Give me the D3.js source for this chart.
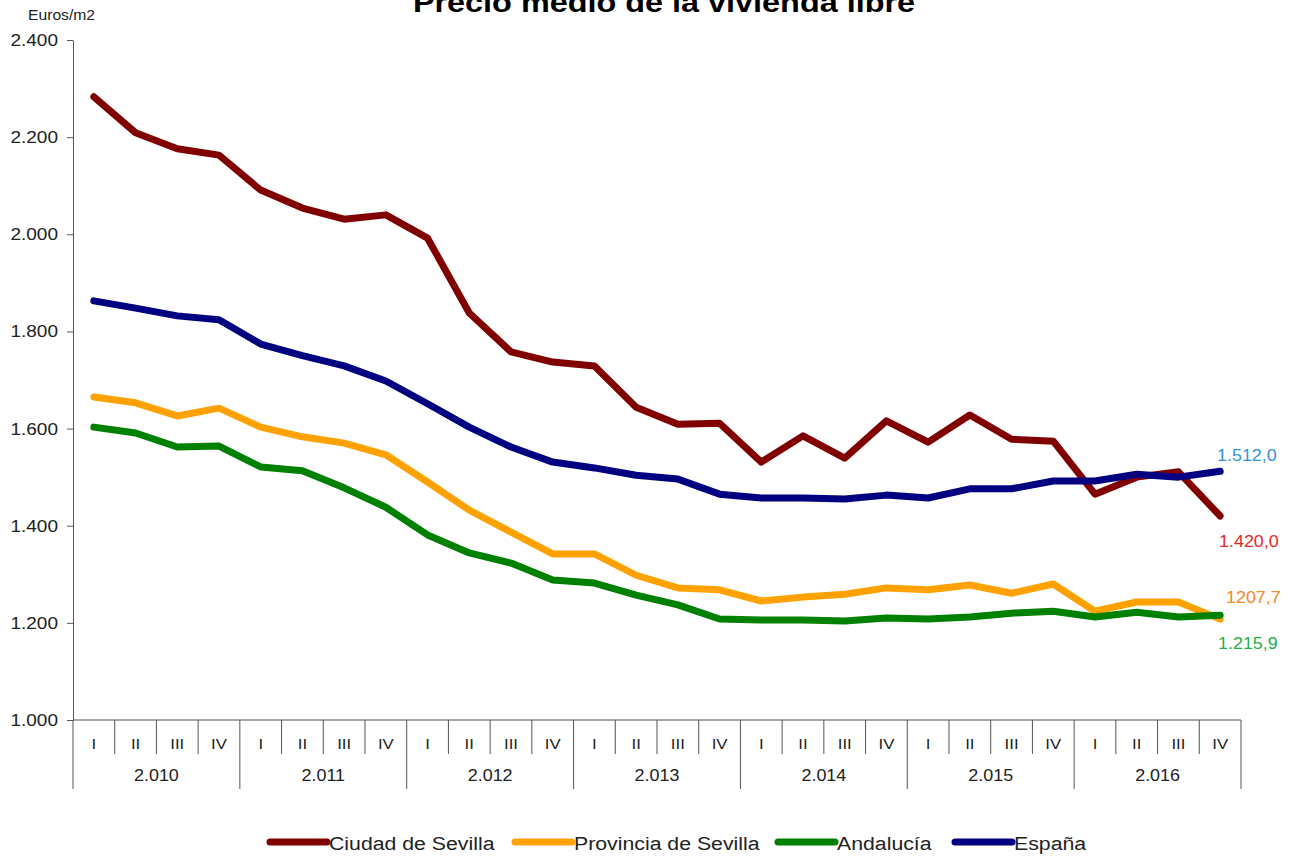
<!DOCTYPE html>
<html><head><meta charset="utf-8">
<script src="https://cdn.jsdelivr.net/npm/d3@7"></script>
<style>body{margin:0;background:#fff}svg{display:block}text{font-family:"Liberation Sans",Arial,sans-serif}</style>
</head><body><svg id="c" width="1293" height="861"></svg>
<script>
const years = ["2.010","2.011","2.012","2.013","2.014","2.015","2.016"];
const quarters = ["I","II","III","IV"];
const yTicks = [1000,1200,1400,1600,1800,2000,2200,2400];
const seriesNames = ["Ciudad de Sevilla","Provincia de Sevilla","Andalucía","España"];
const seriesColors = ["#800000","#FFA200","#008000","#000080"];
const ciudad = [2283,2209,2176,2163,2091,2054,2031,2040,1992,1838,1758,1737,1729,1644,1609,1611,1531,1585,1539,1616,1572,1628,1578,1574,1465,1500,1511,1420.0];
const provincia = [1665,1653,1626,1642,1603,1583,1570,1546,1490,1432,1387,1342,1342,1298,1272,1268,1245,1253,1259,1272,1268,1278,1261,1280,1224,1243,1243,1207.7];
const andalucia = [1603,1591,1562,1564,1521,1513,1478,1438,1381,1344,1323,1288,1282,1257,1237,1208,1206,1206,1204,1210,1208,1212,1220,1224,1212,1222,1212,1215.9];
const espana = [1863,1848,1832,1824,1774,1750,1729,1698,1651,1603,1562,1531,1519,1504,1496,1465,1457,1457,1455,1463,1457,1476,1476,1492,1492,1506,1500,1512.0];
const endLabels = ["1.420,0","1207,7","1.215,9","1.512,0"];
const endLabelColors = ["#E02A2A","#F08A2A","#22B04A","#2F93DA"];
const title = "Precio medio de la vivienda libre";
const yUnit = "Euros/m2";

const data = [ciudad, provincia, andalucia, espana];
const svg = d3.select("#c");
const SX = 1.12;
function txt(g, x, y, s, size, anchor, color, weight){
  return g.append("text").attr("transform",`translate(${x},${y}) scale(${SX},1)`)
    .attr("text-anchor",anchor||"start").attr("font-size",size).attr("fill",color||"#222")
    .attr("font-weight",weight||"normal").text(s);
}
const L=73, R=1241, T=40, B=720;
const idx = d3.range(years.length*quarters.length);
const x = d3.scaleBand().domain(idx).range([L,R]).padding(0);
const y = d3.scaleLinear().domain([1000,2400]).range([B,T]);
const cx = i => x(i)+x.bandwidth()/2;

// title (cut at the top edge, as in the reference)
svg.append("text").attr("transform","translate(664,12) scale(1.2,1)").attr("text-anchor","middle")
  .attr("font-family","'Open Sans',sans-serif").attr("font-weight","bold").attr("font-size",27)
  .attr("fill","#000").text(title);
txt(svg,28,20,yUnit,14,"start","#222");

// y axis
const fmt = v => d3.format(",")(v).replace(/,/g,".");
const ya = svg.append("g").attr("transform",`translate(${L},0)`)
  .call(d3.axisLeft(y).tickValues(yTicks).tickSize(6).tickSizeOuter(0).tickFormat(fmt));
ya.select(".domain").attr("stroke","#555");
ya.selectAll(".tick line").attr("stroke","#555");
ya.selectAll(".tick text").remove();
yTicks.forEach(v=>txt(svg,58,y(v)+6,fmt(v),17,"end","#222"));

// x axis
const xg = svg.append("g");
xg.append("line").attr("x1",L).attr("x2",R).attr("y1",B).attr("y2",B).attr("stroke","#555");
idx.concat([idx.length]).forEach(i=>{
  const xx = i<idx.length ? x(i) : R;
  const yearEdge = i%4===0;
  xg.append("line").attr("x1",xx).attr("x2",xx).attr("y1",B).attr("y2",yearEdge?789:754)
    .attr("stroke","#555").attr("stroke-width",1);
});
idx.forEach(i=>txt(xg,cx(i),749,quarters[i%4],15,"middle","#222"));
years.forEach((yr,k)=>{
  const xm = (x(k*4)+ (k*4+4<idx.length ? x(k*4+4) : R))/2;
  txt(xg,xm,781,yr,16,"middle","#222");
});

// lines
const line = d3.line().x((d,i)=>cx(i)).y(d=>y(d));
data.forEach((s,k)=>{
  svg.append("path").datum(s).attr("d",line).attr("fill","none")
    .attr("stroke",seriesColors[k]).attr("stroke-width",7)
    .attr("stroke-linejoin","round").attr("stroke-linecap","round");
});

// end labels
const endPos = [[1219,547],[1226,603],[1218,649],[1217,461]];
endLabels.forEach((s,k)=>txt(svg,endPos[k][0],endPos[k][1],s,16,"start",endLabelColors[k]));

// legend
const legX = [270,515,778,955];
seriesNames.forEach((n,k)=>{
  svg.append("line").attr("x1",legX[k]).attr("x2",legX[k]+57).attr("y1",842).attr("y2",842)
    .attr("stroke",seriesColors[k]).attr("stroke-width",7).attr("stroke-linecap","round");
  txt(svg,legX[k]+59,850,n,19,"start","#222");
});
</script></body></html>
